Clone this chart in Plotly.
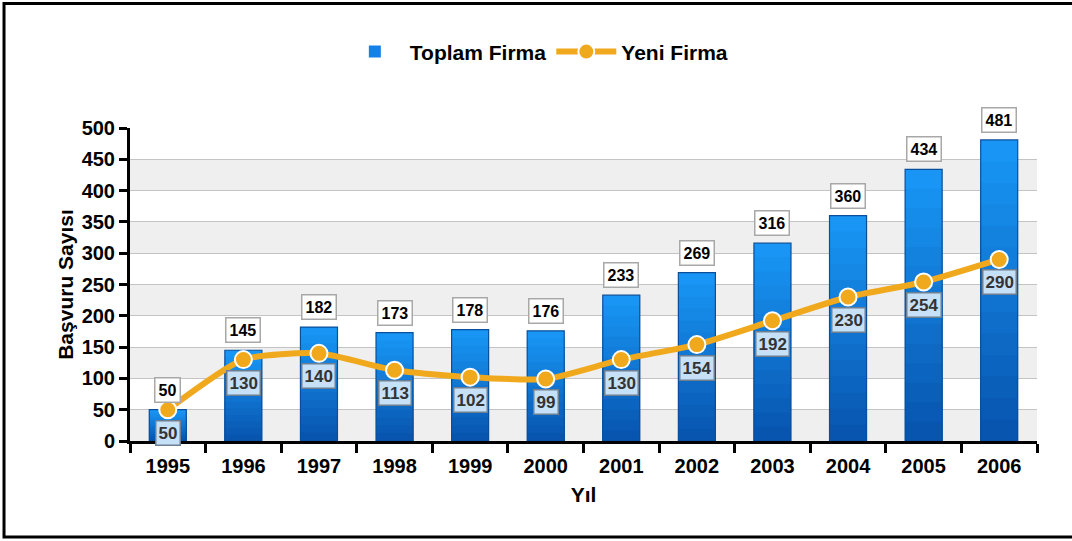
import plotly.graph_objects as go

years = ["1995", "1996", "1997", "1998", "1999", "2000", "2001", "2002", "2003", "2004", "2005", "2006"]
toplam = [50, 145, 182, 173, 178, 176, 233, 269, 316, 360, 434, 481]
yeni = [50, 130, 140, 113, 102, 99, 130, 154, 192, 230, 254, 290]
y_ticks = [0, 50, 100, 150, 200, 250, 300, 350, 400, 450, 500]

FONT = "Liberation Sans, Arial, sans-serif"
fig = go.Figure()

# gradient bars via layered overlay
N = 14
top_c = (25, 150, 245)
bot_c = (8, 85, 175)
for k in range(N):
    frac = (N - k) / N
    t = k / (N - 1)
    c = tuple(int(top_c[i] + (bot_c[i] - top_c[i]) * t) for i in range(3))
    fig.add_trace(go.Bar(
        x=years, y=[v * frac for v in toplam], width=0.49,
        marker=dict(color="rgb(%d,%d,%d)" % c, line=dict(width=0)),
        showlegend=False, hoverinfo="skip"))
# outline
fig.add_trace(go.Bar(
    x=years, y=toplam, width=0.49, name="Toplam Firma",
    marker=dict(color="rgba(0,0,0,0)", line=dict(color="#0a4f9c", width=1.2)),
    showlegend=False))
# legend entry only (zero-height bar)
fig.add_trace(go.Bar(
    x=years[:1], y=[0], width=0.49, name="Toplam Firma",
    marker=dict(color="#1581e8", line=dict(width=0)), hoverinfo="skip"))

fig.add_trace(go.Scatter(
    x=years, y=yeni, name="Yeni Firma", mode="lines+markers",
    line=dict(color="#f0a81c", width=6, shape="spline", smoothing=0.6),
    marker=dict(color="#f0a81c", size=17, line=dict(color="white", width=2))))

for i, v in enumerate(toplam):
    fig.add_annotation(x=i, y=v, yshift=20, text="<b>%d</b>" % v, showarrow=False,
                       font=dict(family=FONT, size=16, color="black"),
                       bgcolor="white", bordercolor="#a8a8a8", borderwidth=1.5, borderpad=3)
for i, v in enumerate(yeni):
    fig.add_annotation(x=i, y=v, yshift=-23, text="<b>%d</b>" % v, showarrow=False,
                       font=dict(family=FONT, size=17, color="#333333"),
                       bgcolor="#c6e0f7", bordercolor="#6d7f90", borderwidth=1.5, borderpad=2)

# alternating bands
for i in range(0, len(y_ticks) - 1, 2):
    fig.add_shape(type="rect", xref="paper", yref="y", x0=0, x1=1,
                  y0=y_ticks[i], y1=y_ticks[i + 1], fillcolor="#efefef",
                  line=dict(width=0), layer="below")

# outer frame
fig.add_shape(type="rect", xref="paper", yref="paper", x0=-0.1389, x1=1.2,
              y0=-0.3067, y1=1.398, line=dict(color="black", width=3),
              fillcolor="rgba(0,0,0,0)")

fig.update_layout(
    width=1072, height=541,
    margin=dict(l=130, r=35, t=128, b=100, autoexpand=False),
    paper_bgcolor="white", plot_bgcolor="white",
    barmode="overlay",
    font=dict(family=FONT, size=18, color="black"),
    legend=dict(orientation="h", x=0.448, xanchor="center", y=1.243, yanchor="middle",
                font=dict(family=FONT, size=21, color="black", weight="bold"),
                bgcolor="rgba(0,0,0,0)", itemwidth=60),
    xaxis=dict(type="category", categoryorder="array", categoryarray=years,
               range=[-0.5, len(years) - 0.5], autorange=False,
               showline=True, linecolor="black", linewidth=3, tickangle=0,
               ticks="outside", tickson="boundaries", ticklen=9, tickwidth=3, tickcolor="black",
               ticklabelstandoff=5,
               tickfont=dict(family=FONT, size=20, weight="bold"),
               title=dict(text="Yıl", font=dict(family=FONT, size=21, weight="bold"), standoff=12),
               showgrid=False),
    yaxis=dict(range=[0, 500], autorange=False, tickvals=y_ticks, showline=True, linecolor="black", linewidth=3,
               ticks="outside", ticklen=8, tickwidth=3, tickcolor="black",
               tickfont=dict(family=FONT, size=20, weight="bold"),
               title=dict(text="Başvuru Sayısı", font=dict(family=FONT, size=21, weight="bold"), standoff=3),
               showgrid=True, gridcolor="#c4c4c4", gridwidth=1, zeroline=False),
)

fig.write_html("out.html", config={"displayModeBar": False},
               post_script="document.body.style.margin='0';document.body.style.overflow='hidden';")
